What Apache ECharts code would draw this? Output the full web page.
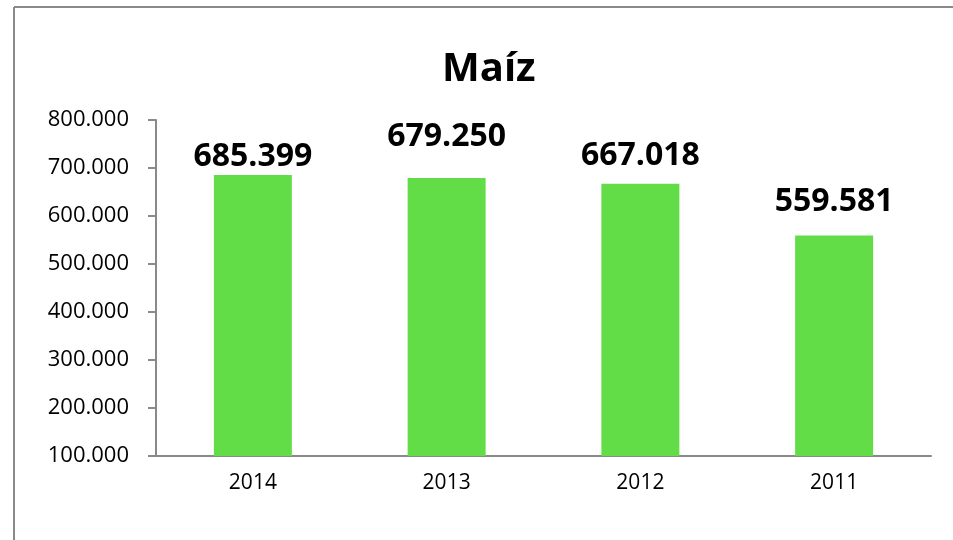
<!DOCTYPE html>
<html>
<head>
<meta charset="utf-8">
<script src="https://cdn.jsdelivr.net/npm/echarts@6/dist/echarts.min.js"></script>
<style>
  html, body { margin: 0; padding: 0; background: #fff; }
  #chart { width: 953px; height: 540px; }
</style>
</head>
<body>
<div id="chart"></div>
<script>
// datos
var years = ['2014', '2013', '2012', '2011'];
var produccion = [685399, 679250, 667018, 559581];
var yTicks = { min: 100000, max: 800000, interval: 100000 };
// separación de cada etiqueta sobre su barra (solo estilo)
var labelGap = [2, 25, 12, 18];

function miles(v) {
    return String(Math.round(v)).replace(/\B(?=(\d{3})+(?!\d))/g, '.');
}

var myChart = echarts.init(document.getElementById('chart'));
var axisColor = '#898989';

var option = {
    backgroundColor: '#fff',
    title: {
        text: 'Maíz',
        left: 437,
        top: 45,
        textStyle: {
            fontFamily: 'Open Sans',
            fontWeight: 'bold',
            fontSize: 40,
            color: '#000'
        }
    },
    graphic: [
        { type: 'line', shape: { x1: 14, y1: 7, x2: 953, y2: 7 }, style: { stroke: '#8a8a8a', lineWidth: 2 } },
        { type: 'line', shape: { x1: 14, y1: 7, x2: 14, y2: 540 }, style: { stroke: '#8a8a8a', lineWidth: 2 } }
    ],
    grid: {
        left: 156,
        right: 22,
        top: 120,
        bottom: 84
    },
    xAxis: {
        type: 'category',
        data: years,
        axisLine: { lineStyle: { color: axisColor, width: 2 } },
        axisTick: { length: 7, lineStyle: { color: axisColor, width: 2 } },
        axisLabel: {
            margin: 17,
            fontFamily: 'Open Sans',
            fontSize: 21,
            color: '#000'
        }
    },
    yAxis: {
        type: 'value',
        min: yTicks.min,
        max: yTicks.max,
        interval: yTicks.interval,
        splitLine: { show: false },
        axisLine: { show: true, lineStyle: { color: axisColor, width: 2 } },
        axisTick: { show: true, length: 8, lineStyle: { color: axisColor, width: 2 } },
        axisLabel: {
            margin: 27,
            fontFamily: 'Open Sans',
            fontSize: 22,
            color: '#000',
            formatter: miles
        }
    },
    series: [
        {
            type: 'bar',
            barWidth: 78,
            itemStyle: { color: '#62DD47' },
            data: produccion.map(function (v, i) {
                return {
                    value: v,
                    label: { distance: labelGap[i] }
                };
            }),
            label: {
                show: true,
                position: 'top',
                fontFamily: 'Open Sans',
                fontWeight: 'bold',
                fontSize: 32,
                color: '#000',
                formatter: function (p) { return miles(p.value); }
            }
        }
    ]
};
myChart.setOption(option);
window.addEventListener('resize', function () {
    myChart.resize();
});
</script>
</body>
</html>
